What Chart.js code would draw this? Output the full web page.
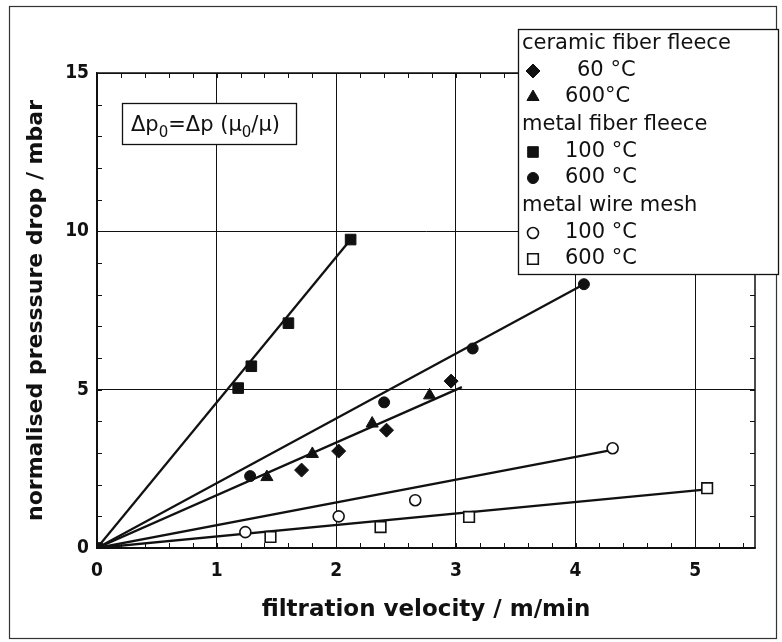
<!DOCTYPE html>
<html>
<head>
<meta charset="utf-8">
<script src="https://cdn.jsdelivr.net/npm/chart.js@4.4.1/dist/chart.umd.min.js"></script>
<style>
  html, body { margin: 0; padding: 0; background: #fff; }
  #wrap { width: 782px; height: 642px; }
</style>
</head>
<body>
<div id="wrap"><canvas id="chart" width="782" height="642"></canvas></div>
<script>
const ceramic60X  = [1.71, 2.02, 2.42, 2.96];
const ceramic60Y  = [2.46, 3.06, 3.72, 5.27];
const ceramic600X = [1.42, 1.80, 2.30, 2.78];
const ceramic600Y = [2.24, 2.97, 3.93, 4.82];
const metal100X   = [0, 1.18, 1.29, 1.60, 2.12];
const metal100Y   = [0, 5.05, 5.74, 7.10, 9.74];
const metal600X   = [1.28, 2.40, 3.14, 4.07];
const metal600Y   = [2.27, 4.60, 6.30, 8.33];
const mesh100X    = [1.24, 2.02, 2.66, 4.31];
const mesh100Y    = [0.50, 1.00, 1.51, 3.15];
const mesh600X    = [1.45, 2.37, 3.11, 5.10];
const mesh600Y    = [0.35, 0.66, 0.98, 1.89];

// fitted lines through origin: end points [x, y]
const fitMetal100 = [[0, 0], [2.12, 9.74]];
const fitMetal600 = [[0, 0], [4.07, 8.33]];
const fitCeramic  = [[0, 0], [3.05, 5.08]];
const fitMesh100  = [[0, 0], [4.31, 3.10]];
const fitMesh600  = [[0, 0], [5.10, 1.85]];

const xTicks = [0, 1, 2, 3, 4, 5];
const yTicks = [0, 5, 10, 15];

const legendGroups = [
  { header: 'ceramic fiber fleece', items: [['60 °C', 0], ['600°C', 1]] },
  { header: 'metal fiber fleece', items: [['100 °C', 2], ['600 °C', 3]] },
  { header: 'metal wire mesh', items: [['100 °C', 4], ['600 °C', 5]] }
];

const INK = '#111';
const FONT = '"DejaVu Sans", sans-serif';
const TICK_FONT = '"DejaVu Sans Condensed", "DejaVu Sans", sans-serif';

function pts(xs, ys) {
  return xs.map((x, i) => ({ x: x, y: ys[i] }));
}
function linePts(arr) {
  return arr.map(p => ({ x: p[0], y: p[1] }));
}

function markerSet(label, data, style, radius, filled) {
  return {
    label: label,
    data: data,
    showLine: false,
    pointStyle: style,
    pointRadius: radius,
    pointBackgroundColor: filled ? INK : '#fff',
    pointBorderColor: INK,
    pointBorderWidth: filled ? 1 : 1.6,
    order: 0
  };
}
function fitSet(data) {
  return {
    label: '',
    data: data,
    showLine: true,
    borderColor: INK,
    borderWidth: 2.3,
    pointRadius: 0,
    fill: false,
    order: 1
  };
}

const markerSets = [
  markerSet('ceramic 60', pts(ceramic60X, ceramic60Y), 'rectRot', 7, true),
  markerSet('ceramic 600', pts(ceramic600X, ceramic600Y), 'triangle', 7, true),
  markerSet('metal 100', pts(metal100X, metal100Y), 'rect', 7.5, true),
  markerSet('metal 600', pts(metal600X, metal600Y), 'circle', 5.5, true),
  markerSet('mesh 100', pts(mesh100X, mesh100Y), 'circle', 5.5, false),
  markerSet('mesh 600', pts(mesh600X, mesh600Y), 'rect', 7.5, false)
];

// frame, minor ticks, formula box and the grouped legend
const decorations = {
  id: 'decorations',
  beforeDatasetsDraw(chart) {
    const ctx = chart.ctx;
    const xs = chart.scales.x, ys = chart.scales.y;
    const a = chart.chartArea;
    ctx.save();
    ctx.strokeStyle = INK;
    ctx.lineWidth = 1;
    ctx.beginPath();
    for (let v = 0.2; v < 5.5; v += 0.2) {
      const px = Math.round(xs.getPixelForValue(v)) + 0.5;
      ctx.moveTo(px, a.bottom); ctx.lineTo(px, a.bottom - 5);
      ctx.moveTo(px, a.top); ctx.lineTo(px, a.top + 5);
    }
    for (let v = 1; v < 15; v += 1) {
      const py = Math.round(ys.getPixelForValue(v)) + 0.5;
      ctx.moveTo(a.left, py); ctx.lineTo(a.left + 5, py);
      ctx.moveTo(a.right, py); ctx.lineTo(a.right - 5, py);
    }
    ctx.stroke();
    ctx.lineWidth = 1.5;
    ctx.strokeRect(a.left, a.top, a.right - a.left, a.bottom - a.top);
    ctx.restore();
  },
  afterDraw(chart) {
    const ctx = chart.ctx;
    ctx.save();
    // outer frame
    ctx.strokeStyle = '#333';
    ctx.lineWidth = 1.2;
    ctx.strokeRect(9.5, 6.5, 767, 632);

    // formula box
    ctx.fillStyle = '#fff';
    ctx.fillRect(122, 103, 174, 41);
    ctx.strokeStyle = INK;
    ctx.lineWidth = 1.3;
    ctx.strokeRect(122.5, 103.5, 174, 41);
    ctx.fillStyle = INK;
    ctx.textBaseline = 'alphabetic';
    let x = 131;
    const base = 131;
    const parts = [['Δp', 0], ['0', 1], ['=Δp (μ', 0], ['0', 1], ['/μ)', 0]];
    parts.forEach(p => {
      ctx.font = p[1] ? '15px ' + FONT : '21px ' + FONT;
      ctx.fillText(p[0], x, p[1] ? base + 6 : base);
      x += ctx.measureText(p[0]).width;
    });

    // legend box
    ctx.fillStyle = '#fff';
    ctx.fillRect(518, 29, 261, 246);
    ctx.strokeStyle = INK;
    ctx.lineWidth = 1.3;
    ctx.strokeRect(518.5, 29.5, 260, 245);
    ctx.textBaseline = 'middle';
    ctx.font = '21px ' + FONT;
    let y = 44;
    legendGroups.forEach(g => {
      ctx.fillStyle = INK;
      ctx.fillText(g.header, 522, y);
      y += 27;
      g.items.forEach(it => {
        const ds = markerSets[it[1]];
        ctx.fillStyle = ds.pointBackgroundColor;
        ctx.strokeStyle = INK;
        ctx.lineWidth = ds.pointBorderWidth;
        Chart.helpers.drawPoint(ctx, {
          pointStyle: ds.pointStyle,
          radius: ds.pointRadius,
          borderWidth: ds.pointBorderWidth,
          rotation: 0
        }, 533, y);
        ctx.fillStyle = INK;
        const tx = it[0] === '60 °C' ? 577 : 565;
        ctx.fillText(it[0], tx, y);
        y += 26;
      });
      y += 2;
    });
    ctx.restore();
  }
};

const ctx = document.getElementById('chart');
new Chart(ctx, {
  type: 'scatter',
  data: {
    datasets: markerSets.concat([
      fitSet(linePts(fitMetal100)),
      fitSet(linePts(fitMetal600)),
      fitSet(linePts(fitCeramic)),
      fitSet(linePts(fitMesh100)),
      fitSet(linePts(fitMesh600))
    ])
  },
  options: {
    responsive: false,
    animation: false,
    layout: { padding: { top: 73, right: 27, left: 0, bottom: 0 } },
    plugins: {
      legend: { display: false },
      tooltip: { enabled: false }
    },
    scales: {
      x: {
        type: 'linear',
        min: 0,
        max: 5.5,
        afterBuildTicks: s => { s.ticks = xTicks.map(v => ({ value: v })); },
        afterFit: s => { s.height = 94; },
        grid: { color: INK, lineWidth: 1, drawTicks: false },
        border: { display: true, color: INK, width: 1.5 },
        ticks: {
          color: INK,
          padding: 12,
          font: { family: TICK_FONT, size: 19, weight: 'bold' }
        },
        title: {
          display: true,
          text: 'filtration velocity / m/min',
          color: INK,
          padding: { top: 4, bottom: 18 },
          font: { family: FONT, size: 23, weight: 'bold' }
        }
      },
      y: {
        type: 'linear',
        min: 0,
        max: 15,
        afterBuildTicks: s => { s.ticks = yTicks.map(v => ({ value: v })); },
        afterFit: s => { s.width = 97; },
        grid: { color: INK, lineWidth: 1, drawTicks: false },
        border: { display: true, color: INK, width: 1.5 },
        ticks: {
          color: INK,
          padding: 8,
          font: { family: TICK_FONT, size: 19, weight: 'bold' }
        },
        title: {
          display: true,
          text: 'normalised presssure drop / mbar',
          color: INK,
          padding: { top: 23, bottom: 0 },
          font: { family: FONT, size: 22, weight: 'bold' }
        }
      }
    }
  },
  plugins: [decorations]
});
</script>
</body>
</html>
